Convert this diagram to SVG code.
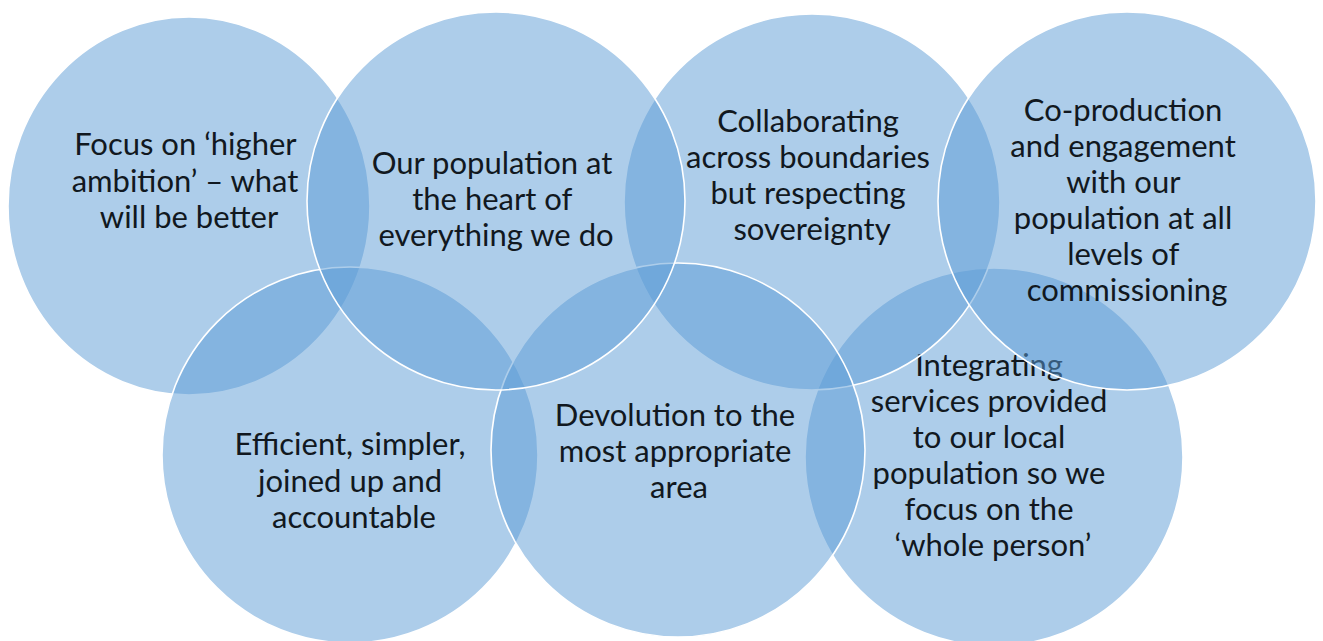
<svg xmlns="http://www.w3.org/2000/svg" width="1323" height="641" viewBox="0 0 1323 641">
  <style>
    .bubble { fill: #5B9BD5; fill-opacity: 0.5; stroke: #ffffff; stroke-width: 1.6; }
    .label { font-family: Lato, "Open Sans", "Liberation Sans", sans-serif; font-size: 31px; fill: #111820; text-anchor: middle; }
  </style>
  <rect width="1323" height="641" fill="#ffffff"/>

  <!-- stacking order decides which outlines and labels sit on top -->
  <g id="focus">
    <ellipse class="bubble" cx="189" cy="206" rx="181" ry="189"/>
    <text class="label">
      <tspan x="189" y="155">Focus on ‘higher</tspan>
      <tspan x="189" y="191.5">ambition’ – what</tspan>
      <tspan x="189" y="228">will be better</tspan>
    </text>
  </g>

  <g id="efficient">
    <circle class="bubble" cx="350" cy="455" r="188"/>
    <text class="label">
      <tspan x="354" y="455">Efficient, simpler,</tspan>
      <tspan x="354" y="491.5">joined up and</tspan>
      <tspan x="354" y="528">accountable</tspan>
    </text>
  </g>

  <g id="integrating">
    <circle class="bubble" cx="994" cy="457" r="189"/>
    <text class="label">
      <tspan x="993" y="376">Integrating</tspan>
      <tspan x="993" y="412">services provided</tspan>
      <tspan x="993" y="448">to our local</tspan>
      <tspan x="993" y="484">population so we</tspan>
      <tspan x="993" y="520">focus on the</tspan>
      <tspan x="993" y="556">‘whole person’</tspan>
    </text>
  </g>

  <g id="collaborating">
    <circle class="bubble" cx="812" cy="202" r="188"/>
    <text class="label">
      <tspan x="812" y="132">Collaborating</tspan>
      <tspan x="812" y="168">across boundaries</tspan>
      <tspan x="812" y="204">but respecting</tspan>
      <tspan x="812" y="240">sovereignty</tspan>
    </text>
  </g>

  <g id="devolution">
    <circle class="bubble" cx="678" cy="450" r="187"/>
    <text class="label">
      <tspan x="679" y="426">Devolution to the</tspan>
      <tspan x="679" y="462">most appropriate</tspan>
      <tspan x="679" y="498">area</tspan>
    </text>
  </g>

  <g id="population">
    <circle class="bubble" cx="496" cy="201" r="189"/>
    <text class="label">
      <tspan x="496" y="174">Our population at</tspan>
      <tspan x="496" y="210">the heart of</tspan>
      <tspan x="496" y="246">everything we do</tspan>
    </text>
  </g>

  <g id="coproduction">
    <circle class="bubble" cx="1127" cy="201" r="189"/>
    <text class="label">
      <tspan x="1127" y="121">Co-production</tspan>
      <tspan x="1127" y="157">and engagement</tspan>
      <tspan x="1127" y="193">with our</tspan>
      <tspan x="1127" y="229">population at all</tspan>
      <tspan x="1127" y="265">levels of</tspan>
      <tspan x="1127" y="301">commissioning</tspan>
    </text>
  </g>

  <g id="connectors"/>
</svg>
